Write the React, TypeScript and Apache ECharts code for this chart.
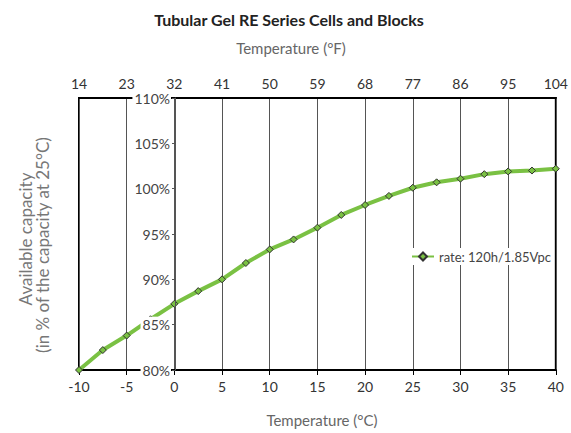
import React, { useEffect, useRef } from "react";
import * as echarts from "echarts";

const titleText = "Tubular Gel RE Series Cells and Blocks";
const topAxisName = "Temperature (°F)";
const bottomAxisName = "Temperature (°C)";
const yNameLine1 = "Available capacity";
const yNameLine2 = "(in % of the capacity at 25°C)";
const seriesName = "rate: 120h/1.85Vpc";

const celsiusTicks = [-10, -5, 0, 5, 10, 15, 20, 25, 30, 35, 40];
const fahrenheitTicks = [14, 23, 32, 41, 50, 59, 68, 77, 86, 95, 104];

const tempC = [-10, -7.5, -5, -2.5, 0, 2.5, 5, 7.5, 10, 12.5, 15, 17.5, 20, 22.5, 25, 27.5, 30, 32.5, 35, 37.5, 40];
const capacity = [80.0, 82.2, 83.8, 85.6, 87.3, 88.7, 90.0, 91.8, 93.3, 94.4, 95.7, 97.1, 98.2, 99.2, 100.1, 100.7, 101.1, 101.6, 101.9, 102.0, 102.2];

const FONT = "Lato, 'DejaVu Sans', sans-serif";
const GREEN = "#7AC143";

const GRID_LEFT = 79;
const GRID_RIGHT = 11;
const WIDTH = 571;

export default function App() {
  const ref = useRef<HTMLDivElement>(null);
  useEffect(() => {
    if (!ref.current) return;
    const chart = echarts.init(ref.current, null, { renderer: "svg" });
    const data = tempC.map((t, i) => [t, capacity[i]]);
    const plotW = WIDTH - GRID_LEFT - GRID_RIGHT;
    const xMin = celsiusTicks[0];
    const xMax = celsiusTicks[celsiusTicks.length - 1];
    const zeroOffset = -Math.round(((0 - xMin) / (xMax - xMin)) * plotW);
    chart.setOption({
      animation: false,
      textStyle: { fontFamily: FONT },
      grid: {
        left: GRID_LEFT,
        right: GRID_RIGHT,
        top: 98,
        bottom: 63,
        show: true,
        borderColor: "#000",
        borderWidth: 2,
        backgroundColor: "transparent",
      },
      legend: {
        show: true,
        left: 409,
        top: 248,
        backgroundColor: "#fff",
        padding: [2, 2],
        itemWidth: 22,
        itemHeight: 10,
        textStyle: { color: "#444", fontSize: 13, fontFamily: FONT },
        data: [seriesName],
      },
      xAxis: [
        {
          type: "value",
          position: "bottom",
          min: xMin,
          max: xMax,
          interval: 5,
          axisLine: { show: true, onZero: false, lineStyle: { color: "#000", width: 2 } },
          axisTick: { show: true, length: 5, lineStyle: { color: "#000" } },
          axisLabel: { color: "#333", fontSize: 14, margin: 9, fontFamily: FONT },
          splitLine: { show: true, lineStyle: { color: "#555", width: 1 } },
        },
        {
          type: "value",
          position: "top",
          min: xMin,
          max: xMax,
          interval: 5,
          axisLine: { show: true, onZero: false, lineStyle: { color: "#000", width: 2 } },
          axisTick: { show: false },
          axisLabel: {
            color: "#333",
            fontSize: 14,
            margin: 8,
            fontFamily: FONT,
            formatter: (v: number) => {
              const i = celsiusTicks.indexOf(v);
              return i >= 0 ? String(fahrenheitTicks[i]) : "";
            },
          },
          splitLine: { show: false },
        },
      ],
      yAxis: {
        type: "value",
        position: "left",
        offset: zeroOffset,
        min: 80,
        max: 110,
        interval: 5,
        z: 5,
        axisLine: { show: true, onZero: false, lineStyle: { color: "#555", width: 1 } },
        axisTick: { show: true, length: 3, lineStyle: { color: "#555" } },
        axisLabel: {
          color: "#444",
          fontSize: 14,
          margin: 4,
          fontFamily: FONT,
          formatter: "{value}%",
          backgroundColor: "#fff",
          padding: [1, 1, 1, 2],
        },
        splitLine: { show: false },
      },
      series: [
        {
          name: seriesName,
          type: "line",
          xAxisIndex: 0,
          data,
          symbol: "diamond",
          symbolSize: 7,
          clip: false,
          lineStyle: { color: GREEN, width: 4 },
          itemStyle: { color: GREEN, borderColor: "#333", borderWidth: 1 },
          z: 3,
        },
      ],
      graphic: [
        {
          type: "text",
          x: 289,
          y: 19,
          style: {
            text: titleText,
            fontFamily: FONT,
            fontSize: 16,
            fontWeight: "bold",
            fill: "#222",
            textAlign: "center",
            textVerticalAlign: "middle",
          },
        },
        {
          type: "text",
          x: 291,
          y: 48,
          style: {
            text: topAxisName,
            fontFamily: FONT,
            fontSize: 15,
            fill: "#666",
            textAlign: "center",
            textVerticalAlign: "middle",
          },
        },
        {
          type: "text",
          x: 322,
          y: 420,
          style: {
            text: bottomAxisName,
            fontFamily: FONT,
            fontSize: 15,
            fill: "#666",
            textAlign: "center",
            textVerticalAlign: "middle",
          },
        },
        {
          type: "text",
          x: 25,
          y: 239,
          rotation: Math.PI / 2,
          style: {
            text: yNameLine1,
            fontFamily: FONT,
            fontSize: 17,
            fill: "#777",
            textAlign: "center",
            textVerticalAlign: "middle",
          },
        },
        {
          type: "text",
          x: 42,
          y: 245,
          rotation: Math.PI / 2,
          style: {
            text: yNameLine2,
            fontFamily: FONT,
            fontSize: 17,
            fill: "#777",
            textAlign: "center",
            textVerticalAlign: "middle",
          },
        },
      ],
    });
    return () => chart.dispose();
  }, []);
  return (
    <div
      ref={ref}
      style={{ position: "fixed", left: 0, top: 0, width: 571, height: 433, background: "#fff" }}
    />
  );
}
